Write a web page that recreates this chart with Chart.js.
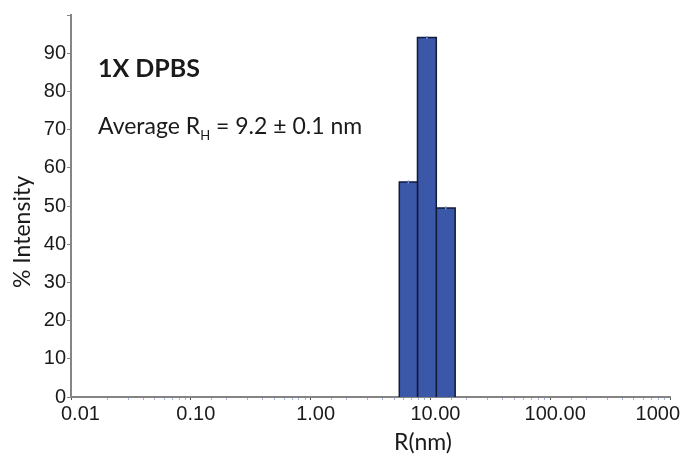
<!DOCTYPE html>
<html>
<head>
<meta charset="utf-8">
<script src="https://cdn.jsdelivr.net/npm/chart.js@4"></script>
<style>
  body { margin: 0; background: #fff; }
  #wrap { width: 684px; height: 455px; }
</style>
</head>
<body>
<div id="wrap"><canvas id="dls"></canvas></div>
<script>
// ---------- DATA ----------
const binEdges = [5.5, 7.8, 11.2, 16.1];   // R(nm) bin edges
const intensity = [56.3, 94.1, 49.5];      // % intensity per bin
const errors = [0.4, 0.4, 0.4];
const xTickValues = [0.01, 0.1, 1, 10, 100, 1000];
const xTickLabels = ['0.01', '0.10', '1.00', '10.00', '100.00', '1000'];
const yTickLabels = [0, 10, 20, 30, 40, 50, 60, 70, 80, 90];

const barFill = '#3a57a8';
const barEdge = '#121a3a';
const axisGray = '#858585';

// one closed outline per histogram bin
const bars = intensity.map((h, i) => ({
  data: [
    { x: binEdges[i], y: 0 },
    { x: binEdges[i], y: h },
    { x: binEdges[i + 1], y: h },
    { x: binEdges[i + 1], y: 0 }
  ],
  fill: 'origin',
  backgroundColor: barFill,
  borderColor: barEdge,
  borderWidth: 1.5,
  pointRadius: 0,
  tension: 0
}));

// error marks + x labels + annotations
const extras = {
  id: 'extras',
  afterDatasetsDraw(chart) {
    const { ctx, scales: { x, y } } = chart;
    ctx.save();
    ctx.strokeStyle = '#6f8fdc';
    ctx.lineWidth = 1.5;
    intensity.forEach((h, i) => {
      const cx = x.getPixelForValue(Math.sqrt(binEdges[i] * binEdges[i + 1]));
      ctx.beginPath();
      ctx.moveTo(cx, y.getPixelForValue(h + errors[i]));
      ctx.lineTo(cx, y.getPixelForValue(h - errors[i]));
      ctx.stroke();
    });
    ctx.restore();
  },
  afterDraw(chart) {
    const { ctx, scales: { x } } = chart;
    ctx.save();
    ctx.fillStyle = '#1a1a1a';

    // x tick labels, kept inside the picture at both ends
    ctx.font = '20px "Liberation Sans", Arial, sans-serif';
    ctx.textBaseline = 'alphabetic';
    ctx.textAlign = 'left';
    xTickValues.forEach((v, i) => {
      const w = ctx.measureText(xTickLabels[i]).width;
      let left = x.getPixelForValue(v) + 5 - w / 2;
      left = Math.max(61, Math.min(left, 680 - w));
      ctx.fillText(xTickLabels[i], left, 420);
    });

    // axis titles
    ctx.font = '23px Lato, "Open Sans", sans-serif';
    ctx.textAlign = 'center';
    ctx.fillText('R(nm)', 423, 450);
    ctx.save();
    ctx.translate(30, 232);
    ctx.rotate(-Math.PI / 2);
    ctx.fillText('% Intensity', 0, 0);
    ctx.restore();

    // annotations
    ctx.textAlign = 'left';
    ctx.font = 'bold 25px Lato, "Open Sans", sans-serif';
    ctx.fillText('1X DPBS', 98, 77);

    ctx.font = '23px Lato, "Open Sans", sans-serif';
    let px = 98;
    const base = 134;
    ctx.fillText('Average R', px, base);
    px += ctx.measureText('Average R').width;
    ctx.font = '13px Lato, "Open Sans", sans-serif';
    ctx.fillText('H', px, base + 6);
    px += ctx.measureText('H').width;
    ctx.font = '23px Lato, "Open Sans", sans-serif';
    ctx.fillText(' = 9.2 \u00b1 0.1 nm', px, base);
    ctx.restore();
  }
};

new Chart(document.getElementById('dls'), {
  type: 'line',
  data: { datasets: bars },
  options: {
    responsive: true,
    maintainAspectRatio: false,
    animation: false,
    layout: { padding: { top: 15, right: 14, left: 0, bottom: 0 } },
    plugins: { legend: { display: false }, tooltip: { enabled: false } },
    scales: {
      x: {
        type: 'logarithmic',
        min: 0.01,
        max: 1000,
        border: { color: axisGray, width: 2 },
        grid: {
          drawOnChartArea: false,
          drawTicks: true,
          tickLength: 3,
          color: ctx => {
            const v = ctx.tick ? ctx.tick.value : 0;
            const e = Math.log10(v);
            return Math.abs(e - Math.round(e)) < 1e-6 ? '#555' : '#9fb0dc';
          }
        },
        ticks: { display: false },
        afterFit(scale) {
          scale.height = 58;
          scale.paddingLeft = 0;
          scale.paddingRight = 0;
        }
      },
      y: {
        min: 0,
        max: 100,
        border: { color: axisGray, width: 2 },
        grid: { drawOnChartArea: false, drawTicks: true, tickLength: 4, color: axisGray },
        ticks: {
          stepSize: 5,
          padding: 1,
          color: '#1a1a1a',
          font: { family: '"Liberation Sans", Arial, sans-serif', size: 20 },
          callback: v => yTickLabels.includes(v) ? String(v) : ''
        },
        afterFit(scale) {
          scale.width = 71;
          scale.paddingTop = 0;
          scale.paddingBottom = 0;
        }
      }
    }
  },
  plugins: [extras]
});
</script>
</body>
</html>
